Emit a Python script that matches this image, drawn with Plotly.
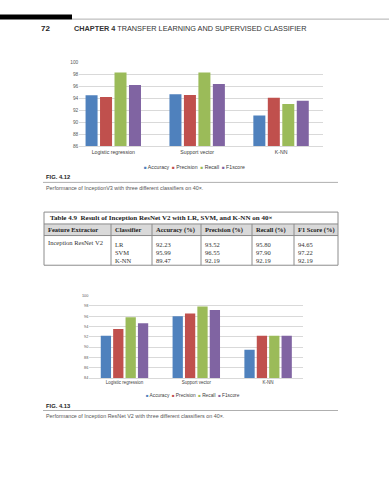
import plotly.graph_objects as go

W, H = 389, 480

# ---------------- data ----------------
categories = ["Logistic regression", "Support vector", "K-NN"]
metrics = ["Accuracy", "Precision", "Recall", "F1score"]
colors = ["#4F81BD", "#C0504D", "#9BBB59", "#8064A2"]

# Fig. 4.12 - InceptionV3
v3_accuracy = [94.5, 94.65, 91.15]
v3_precision = [94.2, 94.55, 94.1]
v3_recall = [98.25, 98.25, 93.05]
v3_f1 = [96.2, 96.35, 93.6]
v3_ticks = [86, 88, 90, 92, 94, 96, 98, 100]

# Table 4.9 / Fig. 4.13 - Inception ResNet V2
table_extractor = "Inception ResNet V2"
table_classifiers = ["LR", "SVM", "K-NN"]
irv2_accuracy = [92.23, 95.99, 89.47]
irv2_precision = [93.52, 96.55, 92.19]
irv2_recall = [95.80, 97.90, 92.19]
irv2_f1 = [94.65, 97.22, 92.19]
irv2_ticks = [84, 86, 88, 90, 92, 94, 96, 98, 100]
table_headers = ["Feature Extractor", "Classifier", "Accuracy (%)",
                 "Precision (%)", "Recall (%)", "F1 Score (%)"]

# ---------------- helpers ----------------
def fx(px):
    return px / W

def fy(py):
    return 1 - py / H

SANS = "Liberation Sans"
SERIF = "Liberation Serif"
GRID = "#d9d9d9"
TICK = "#595959"
BORDER = "#8c8c8c"
CLEAR = "rgba(0,0,0,0)"

fig = go.Figure()

v3_series = [v3_accuracy, v3_precision, v3_recall, v3_f1]
irv2_series = [irv2_accuracy, irv2_precision, irv2_recall, irv2_f1]

for name, col, vals in zip(metrics, colors, v3_series):
    fig.add_trace(go.Bar(x=categories, y=vals, name=name, marker_color=col,
                         marker_line_width=0, xaxis="x", yaxis="y",
                         showlegend=False, hoverinfo="skip"))
for name, col, vals in zip(metrics, colors, irv2_series):
    fig.add_trace(go.Bar(x=categories, y=vals, name=name, marker_color=col,
                         marker_line_width=0, xaxis="x2", yaxis="y2",
                         showlegend=False, hoverinfo="skip"))

# ---------------- table ----------------
# column boundaries of the printed table (px)
col_edges = [44, 111, 152, 201, 252, 294, 338]
TXT_PAD = 4      # visual text inset in the reference
CELLPAD = 8      # plotly table internal text inset
t_left = col_edges[0] + TXT_PAD - CELLPAD
starts = [e + TXT_PAD - CELLPAD for e in col_edges[:-1]]
ends = starts[1:] + [col_edges[-1]]
col_w = [b - a for a, b in zip(starts, ends)]
TXT_OFF = 11.6   # first text line centre below the table top in plotly

def fmt(vals):
    return "<br>".join(f"{v:.2f}" for v in vals)

NB = "\u00a0"
tfont_h = dict(family=SERIF, size=6.5, color="#222")
tfont_b = dict(family=SERIF, size=6.5, color="#333")

def text_table(values, font, y_center):
    return go.Table(
        domain=dict(x=[fx(t_left), fx(col_edges[-1])],
                    y=[fy(y_center - TXT_OFF + 50), fy(y_center - TXT_OFF)]),
        columnwidth=col_w,
        header=dict(values=values, fill_color=CLEAR,
                    line=dict(color=CLEAR, width=0),
                    align="left", height=10, font=font),
        cells=dict(values=[], fill_color=CLEAR, line=dict(color=CLEAR, width=0)),
    )

# column headings
fig.add_trace(text_table([f"<b>{h.replace(' ', NB)}</b>" for h in table_headers],
                         tfont_h, 230))
# body (one block per column, lines separated)
body_values = [table_extractor.replace(' ', NB), "<br>".join(table_classifiers),
               fmt(irv2_accuracy), fmt(irv2_precision), fmt(irv2_recall), fmt(irv2_f1)]
fig.add_trace(text_table(body_values, tfont_b, 244.6))

axis_common = dict(showgrid=False, zeroline=False, ticks="",
                   showline=True, linecolor=GRID, linewidth=1,
                   fixedrange=True, type="category")
yaxis_common = dict(showgrid=True, gridcolor=GRID, gridwidth=1, zeroline=False,
                    ticks="", showline=False, fixedrange=True)

fig.update_layout(
    width=W, height=H,
    margin=dict(l=0, r=0, t=0, b=0),
    paper_bgcolor="white", plot_bgcolor="white",
    barmode="group", bargap=0.31, bargroupgap=0.17,
    showlegend=False,
    xaxis=dict(domain=[fx(79.3), fx(323)], anchor="y",
               range=[-0.405, 2.5],
               tickfont=dict(family=SANS, size=5.2, color="#404040"), **axis_common),
    yaxis=dict(domain=[fy(146), fy(60.7)], anchor="x", range=[86, 100],
               tickvals=v3_ticks,
               tickfont=dict(family=SANS, size=4.8, color=TICK),
               **yaxis_common),
    xaxis2=dict(domain=[fx(89.3), fx(303.3)], anchor="y2",
                range=[-0.49, 2.49],
                tickfont=dict(family=SANS, size=4.5, color="#404040"), **axis_common),
    yaxis2=dict(domain=[fy(380), fy(296.7)], anchor="x2", range=[84, 100],
                tickvals=irv2_ticks,
                tickfont=dict(family=SANS, size=3.8, color=TICK),
                **yaxis_common),
)

shapes = []
ann = []

# page header
shapes.append(dict(type="rect", xref="paper", yref="paper",
                   x0=fx(0), x1=fx(72), y0=fy(17.7), y1=fy(12.7),
                   fillcolor="black", line_width=0))
shapes.append(dict(type="line", xref="paper", yref="paper",
                   x0=fx(72), x1=fx(389), y0=fy(17.3), y1=fy(17.3),
                   line=dict(color="#9a9a9a", width=0.8)))
ann.append(dict(text="<b>72</b>", x=fx(39), y=fy(27), xanchor="left",
                yanchor="middle", font=dict(family=SANS, size=8, color="#222")))
ann.append(dict(text="<b>CHAPTER 4</b> TRANSFER LEARNING AND SUPERVISED CLASSIFIER",
                x=fx(72), y=fy(27), xanchor="left", yanchor="middle",
                font=dict(family=SANS, size=7.3, color="#333")))

# legends
def legend_text(sq):
    parts = []
    for name, col in zip(metrics, colors):
        parts.append(f"<span style='color:{col};font-size:{sq}px'>■</span> {name}")
    return "  ".join(parts)

ann.append(dict(text=legend_text(4.5), x=fx(195), y=fy(166.7), xanchor="center",
                yanchor="middle", font=dict(family=SANS, size=5.2, color="#404040")))
ann.append(dict(text=legend_text(4.2), x=fx(193), y=fy(397.7), xanchor="center",
                yanchor="middle", font=dict(family=SANS, size=4.8, color="#404040")))

# figure captions
def caption(label, text, y_fig, y_line, y_text):
    ann.append(dict(text=f"<b>{label}</b>", x=fx(43.5), y=fy(y_fig),
                    xanchor="left", yanchor="middle",
                    font=dict(family=SANS, size=5.8, color="#222")))
    shapes.append(dict(type="line", xref="paper", yref="paper",
                       x0=fx(43), x1=fx(338), y0=fy(y_line), y1=fy(y_line),
                       line=dict(color="#9a9a9a", width=0.8)))
    ann.append(dict(text=text, x=fx(43.5), y=fy(y_text), xanchor="left",
                    yanchor="middle", font=dict(family=SANS, size=5.4, color="#555")))

caption("FIG. 4.12", "Performance of InceptionV3 with three different classifiers on 40×.",
        177.3, 182.3, 187.7)
caption("FIG. 4.13", "Performance of Inception ResNet V2 with three different classifiers on 40×.",
        408.3, 412.8, 418.3)

# table frame: header fill, outer box and rules
shapes.append(dict(type="rect", xref="paper", yref="paper", layer="below",
                   x0=fx(44), x1=fx(338), y0=fy(236), y1=fy(224.3),
                   fillcolor="#d9d9d9", line_width=0))
shapes.append(dict(type="rect", xref="paper", yref="paper",
                   x0=fx(44), x1=fx(338), y0=fy(266), y1=fy(212.3),
                   fillcolor=CLEAR, line=dict(color=BORDER, width=1)))
for yy in (224.3, 236):
    shapes.append(dict(type="line", xref="paper", yref="paper",
                       x0=fx(44), x1=fx(338), y0=fy(yy), y1=fy(yy),
                       line=dict(color=BORDER, width=1)))
for xx in col_edges[1:-1]:
    shapes.append(dict(type="line", xref="paper", yref="paper",
                       x0=fx(xx), x1=fx(xx), y0=fy(266), y1=fy(224.3),
                       line=dict(color=BORDER, width=1)))
ann.append(dict(text="<b>Table 4.9  Result of Inception ResNet V2 with LR, SVM, and K-NN on 40×</b>",
                x=fx(47.5), y=fy(218.3), xanchor="left", yanchor="middle",
                font=dict(family=SERIF, size=7, color="#222")))

for a in ann:
    a.update(xref="paper", yref="paper", showarrow=False)

fig.update_layout(shapes=shapes, annotations=ann)

fig.write_html("out.html", config={"displayModeBar": False},
               post_script="document.body.style.margin='0';document.body.style.padding='0';")
